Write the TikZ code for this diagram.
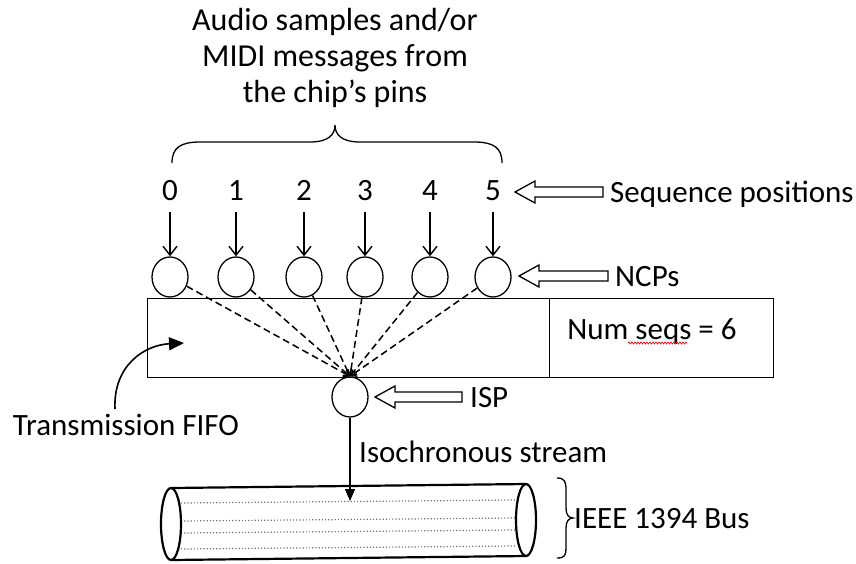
\documentclass[tikz,border=0pt]{standalone}
\usepackage{fontspec}
\setmainfont{Carlito}
\usetikzlibrary{arrows.meta,shapes.geometric,decorations.pathmorphing}
\begin{document}
\begin{tikzpicture}[x=1pt,y=-1pt,
  every node/.style={font=\fontsize{31}{36}\selectfont},
  lbl/.style={anchor=west,inner sep=0,text height=23pt,text depth=3pt},
  num/.style={inner sep=0,text height=23pt,text depth=3pt},
  ncp/.style={draw,ellipse,minimum width=36pt,minimum height=40pt,inner sep=0,line width=1.3pt},
  feed/.style={line width=1.4pt,-{Straight Barb[length=9pt,width=14pt]}},
  fan/.style={line width=1.5pt,dash pattern=on 7pt off 4pt,-{Straight Barb[length=5pt,width=8pt]}},
  box/.style={draw,line width=1.4pt,inner sep=0,anchor=north west},
  pics/hollowarrow/.style={code={
    \draw[line width=1.3pt] (0,0) -- (20,-11) -- (20,-5) -- (#1,-5) -- (#1,5)
      -- (20,5) -- (20,11) -- cycle;}}]
\useasboundingbox (0,0) rectangle (856,563);

% caption and brace over the inputs
\node[align=center,font=\fontsize{32}{36}\selectfont] (caption) at (335,58) {Audio samples and/or\\MIDI messages from\\the chip’s pins};
\draw[line width=1.3pt] (172,163) .. controls (172,148) and (180,142) .. (200,142) -- (310,142)
  .. controls (328,142) and (335,135) .. (335,125)
  .. controls (335,135) and (342,142) .. (360,142) -- (474,142)
  .. controls (494,142) and (502,148) .. (502,163);

% transmission FIFO with its sequence-count field
\node[box,minimum width=626pt,minimum height=79pt] (fifo) at (147,298) {};
\node[box,minimum width=224pt,minimum height=79pt] (count) at (549,298) {};
\node[num] (numseqs) at (652,329) {Num seqs = 6};
\draw[red,line width=0.7pt,decorate,decoration={snake,amplitude=1pt,segment length=3pt}]
  (628,343) -- (687,343);

% sequence positions, NCPs and the fan-in to the ISP
\node[ncp] (isp) at (350,397) {};
\foreach \i/\x in {0/170,1/236,2/304,3/365,4/430,5/493}{
  \node[num] (n\i) at (\x,190) {\i};
  \node[ncp] (c\i) at (\x,277) {};
  \draw[feed] (\x,212) -- (c\i.north);
  \draw[fan] (c\i) -- (isp.north);
}

% hollow pointer arrows and their labels
\pic at (515,192) {hollowarrow=88};
\node[lbl] (seqpos) at (610,192) {Sequence positions};
\pic at (519,276) {hollowarrow=89};
\node[lbl] (ncps) at (615,276) {NCPs};
\pic at (375,397) {hollowarrow=87};
\node[lbl] (isplbl) at (470,397) {ISP};

% label for the FIFO
\node[num] (fifolbl) at (126,425) {Transmission FIFO};
\coordinate (fifopt) at (184,343);
\draw[line width=1.6pt,-{Triangle[length=15pt,width=13pt]}]
  (115,409) .. controls (113,365) and (145,345) .. (fifopt);

% isochronous stream into the bus
\coordinate (busin) at (350,501);
\draw[line width=1.4pt,-{Triangle[length=12pt,width=10pt]}] (isp.south) -- (busin);
\node[lbl] (isolbl) at (359,452) {Isochronous stream};

% IEEE 1394 cable
\foreach \y/\d in {503/500,521/518,533/530,549/546}
  \draw[black!55,line width=1.2pt,dotted] (181,\y) -- (516,\d);
\draw[line width=2.2pt] (171,488) -- (526,484);
\draw[line width=2.2pt] (171,560) -- (526,556);
\draw[line width=2.2pt,fill=white] (171,524) ellipse [x radius=10pt,y radius=36pt];
\draw[line width=2.2pt] (526,520) ellipse [x radius=10pt,y radius=36pt];
\draw[line width=1.3pt] (557,478) .. controls (565,478) and (566,482) .. (566,490) -- (566,508)
  .. controls (566,515) and (569,518) .. (573,518)
  .. controls (569,518) and (566,521) .. (566,528) -- (566,548)
  .. controls (566,555) and (565,558) .. (557,558);
\node[lbl] (buslbl) at (574,518) {IEEE 1394 Bus};
\end{tikzpicture}
\end{document}
